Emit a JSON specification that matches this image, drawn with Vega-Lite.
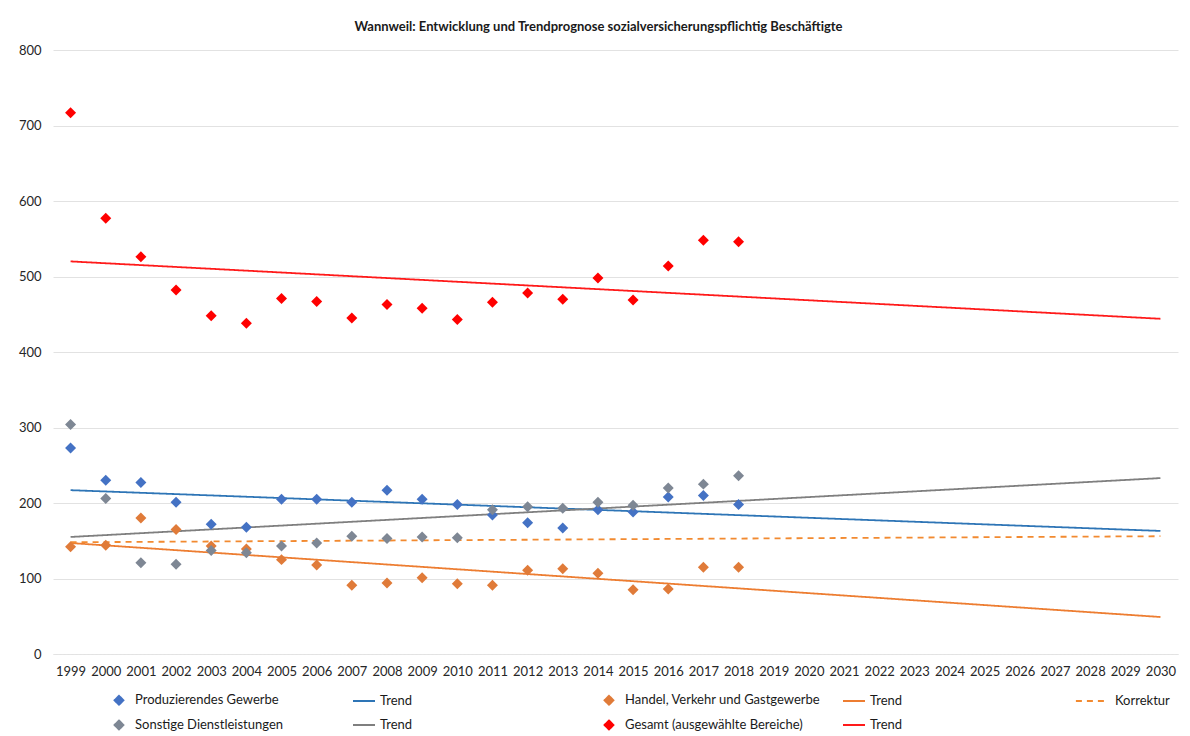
{
  "$schema": "https://vega.github.io/schema/vega-lite/v6.json",
  "width": 1190,
  "height": 736,
  "autosize": {"type": "fit", "contains": "padding"},
  "padding": {"left": 18, "right": 12, "top": 21, "bottom": 58},
  "background": "white",
  "title": {
    "text": "Wannweil: Entwicklung und Trendprognose sozialversicherungspflichtig Beschäftigte",
    "font": "Lato",
    "fontSize": 13,
    "fontWeight": "bold",
    "color": "#1a1a1a",
    "anchor": "middle",
    "dx": -17,
    "offset": 10
  },
  "config": {
    "view": {"stroke": null},
    "axis": {"labelFont": "Lato", "labelColor": "#262626"}
  },
  "data": {
    "values": [
      {"s": "Produzierendes Gewerbe", "j": "1999", "v": 273},
      {"s": "Produzierendes Gewerbe", "j": "2000", "v": 230},
      {"s": "Produzierendes Gewerbe", "j": "2001", "v": 227},
      {"s": "Produzierendes Gewerbe", "j": "2002", "v": 201},
      {"s": "Produzierendes Gewerbe", "j": "2003", "v": 172},
      {"s": "Produzierendes Gewerbe", "j": "2004", "v": 168},
      {"s": "Produzierendes Gewerbe", "j": "2005", "v": 205},
      {"s": "Produzierendes Gewerbe", "j": "2006", "v": 205},
      {"s": "Produzierendes Gewerbe", "j": "2007", "v": 201},
      {"s": "Produzierendes Gewerbe", "j": "2008", "v": 217},
      {"s": "Produzierendes Gewerbe", "j": "2009", "v": 205},
      {"s": "Produzierendes Gewerbe", "j": "2010", "v": 198},
      {"s": "Produzierendes Gewerbe", "j": "2011", "v": 184},
      {"s": "Produzierendes Gewerbe", "j": "2012", "v": 174},
      {"s": "Produzierendes Gewerbe", "j": "2013", "v": 167},
      {"s": "Produzierendes Gewerbe", "j": "2014", "v": 191},
      {"s": "Produzierendes Gewerbe", "j": "2015", "v": 188},
      {"s": "Produzierendes Gewerbe", "j": "2016", "v": 208},
      {"s": "Produzierendes Gewerbe", "j": "2017", "v": 210},
      {"s": "Produzierendes Gewerbe", "j": "2018", "v": 198},

      {"s": "Handel, Verkehr und Gastgewerbe", "j": "1999", "v": 142},
      {"s": "Handel, Verkehr und Gastgewerbe", "j": "2000", "v": 144},
      {"s": "Handel, Verkehr und Gastgewerbe", "j": "2001", "v": 180},
      {"s": "Handel, Verkehr und Gastgewerbe", "j": "2002", "v": 165},
      {"s": "Handel, Verkehr und Gastgewerbe", "j": "2003", "v": 143},
      {"s": "Handel, Verkehr und Gastgewerbe", "j": "2004", "v": 139},
      {"s": "Handel, Verkehr und Gastgewerbe", "j": "2005", "v": 125},
      {"s": "Handel, Verkehr und Gastgewerbe", "j": "2006", "v": 118},
      {"s": "Handel, Verkehr und Gastgewerbe", "j": "2007", "v": 91},
      {"s": "Handel, Verkehr und Gastgewerbe", "j": "2008", "v": 94},
      {"s": "Handel, Verkehr und Gastgewerbe", "j": "2009", "v": 101},
      {"s": "Handel, Verkehr und Gastgewerbe", "j": "2010", "v": 93},
      {"s": "Handel, Verkehr und Gastgewerbe", "j": "2011", "v": 91},
      {"s": "Handel, Verkehr und Gastgewerbe", "j": "2012", "v": 111},
      {"s": "Handel, Verkehr und Gastgewerbe", "j": "2013", "v": 113},
      {"s": "Handel, Verkehr und Gastgewerbe", "j": "2014", "v": 107},
      {"s": "Handel, Verkehr und Gastgewerbe", "j": "2015", "v": 85},
      {"s": "Handel, Verkehr und Gastgewerbe", "j": "2016", "v": 86},
      {"s": "Handel, Verkehr und Gastgewerbe", "j": "2017", "v": 115},
      {"s": "Handel, Verkehr und Gastgewerbe", "j": "2018", "v": 115},

      {"s": "Sonstige Dienstleistungen", "j": "1999", "v": 304},
      {"s": "Sonstige Dienstleistungen", "j": "2000", "v": 206},
      {"s": "Sonstige Dienstleistungen", "j": "2001", "v": 121},
      {"s": "Sonstige Dienstleistungen", "j": "2002", "v": 119},
      {"s": "Sonstige Dienstleistungen", "j": "2003", "v": 137},
      {"s": "Sonstige Dienstleistungen", "j": "2004", "v": 134},
      {"s": "Sonstige Dienstleistungen", "j": "2005", "v": 143},
      {"s": "Sonstige Dienstleistungen", "j": "2006", "v": 147},
      {"s": "Sonstige Dienstleistungen", "j": "2007", "v": 156},
      {"s": "Sonstige Dienstleistungen", "j": "2008", "v": 153},
      {"s": "Sonstige Dienstleistungen", "j": "2009", "v": 155},
      {"s": "Sonstige Dienstleistungen", "j": "2010", "v": 154},
      {"s": "Sonstige Dienstleistungen", "j": "2011", "v": 191},
      {"s": "Sonstige Dienstleistungen", "j": "2012", "v": 195},
      {"s": "Sonstige Dienstleistungen", "j": "2013", "v": 193},
      {"s": "Sonstige Dienstleistungen", "j": "2014", "v": 201},
      {"s": "Sonstige Dienstleistungen", "j": "2015", "v": 197},
      {"s": "Sonstige Dienstleistungen", "j": "2016", "v": 220},
      {"s": "Sonstige Dienstleistungen", "j": "2017", "v": 225},
      {"s": "Sonstige Dienstleistungen", "j": "2018", "v": 236},

      {"s": "Gesamt (ausgewählte Bereiche)", "j": "1999", "v": 717},
      {"s": "Gesamt (ausgewählte Bereiche)", "j": "2000", "v": 577},
      {"s": "Gesamt (ausgewählte Bereiche)", "j": "2001", "v": 526},
      {"s": "Gesamt (ausgewählte Bereiche)", "j": "2002", "v": 482},
      {"s": "Gesamt (ausgewählte Bereiche)", "j": "2003", "v": 448},
      {"s": "Gesamt (ausgewählte Bereiche)", "j": "2004", "v": 438},
      {"s": "Gesamt (ausgewählte Bereiche)", "j": "2005", "v": 471},
      {"s": "Gesamt (ausgewählte Bereiche)", "j": "2006", "v": 467},
      {"s": "Gesamt (ausgewählte Bereiche)", "j": "2007", "v": 445},
      {"s": "Gesamt (ausgewählte Bereiche)", "j": "2008", "v": 463},
      {"s": "Gesamt (ausgewählte Bereiche)", "j": "2009", "v": 458},
      {"s": "Gesamt (ausgewählte Bereiche)", "j": "2010", "v": 443},
      {"s": "Gesamt (ausgewählte Bereiche)", "j": "2011", "v": 466},
      {"s": "Gesamt (ausgewählte Bereiche)", "j": "2012", "v": 478},
      {"s": "Gesamt (ausgewählte Bereiche)", "j": "2013", "v": 470},
      {"s": "Gesamt (ausgewählte Bereiche)", "j": "2014", "v": 498},
      {"s": "Gesamt (ausgewählte Bereiche)", "j": "2015", "v": 469},
      {"s": "Gesamt (ausgewählte Bereiche)", "j": "2016", "v": 514},
      {"s": "Gesamt (ausgewählte Bereiche)", "j": "2017", "v": 548},
      {"s": "Gesamt (ausgewählte Bereiche)", "j": "2018", "v": 546},

      {"s": "Trend PG", "j": "1999", "v": 217},
      {"s": "Trend PG", "j": "2030", "v": 163},
      {"s": "Trend HVG", "j": "1999", "v": 147},
      {"s": "Trend HVG", "j": "2030", "v": 49},
      {"s": "Trend SD", "j": "1999", "v": 155},
      {"s": "Trend SD", "j": "2030", "v": 233},
      {"s": "Trend Ges", "j": "1999", "v": 520},
      {"s": "Trend Ges", "j": "2030", "v": 444},
      {"s": "Korrektur", "j": "1999", "v": 148},
      {"s": "Korrektur", "j": "2030", "v": 156}
    ]
  },
  "encoding": {
    "x": {
      "field": "j",
      "type": "ordinal",
      "scale": {
        "type": "point",
        "padding": 0.5,
        "domain": ["1999","2000","2001","2002","2003","2004","2005","2006","2007","2008","2009","2010","2011","2012","2013","2014","2015","2016","2017","2018","2019","2020","2021","2022","2023","2024","2025","2026","2027","2028","2029","2030"]
      },
      "axis": {
        "title": null,
        "labelAngle": 0,
        "labelFontSize": 13,
        "labelPadding": 11,
        "ticks": false,
        "domain": true,
        "domainColor": "#e4e4e4",
        "domainDash": [2, 2],
        "grid": false
      }
    },
    "y": {
      "field": "v",
      "type": "quantitative",
      "scale": {"domain": [0, 800], "nice": false},
      "axis": {
        "title": null,
        "values": [0, 100, 200, 300, 400, 500, 600, 700, 800],
        "labelFontSize": 13,
        "labelPadding": 12,
        "ticks": false,
        "domain": false,
        "grid": true,
        "gridColor": "#e2e2e2",
        "gridWidth": 1
      }
    },
    "color": {
      "field": "s",
      "type": "nominal",
      "scale": {
        "domain": [
          "Produzierendes Gewerbe", "Trend PG",
          "Handel, Verkehr und Gastgewerbe", "Trend HVG",
          "Korrektur",
          "Sonstige Dienstleistungen", "Trend SD",
          "Gesamt (ausgewählte Bereiche)", "Trend Ges"
        ],
        "range": [
          "#4472C4", "#2E75B6",
          "#E07B39", "#ED7D31",
          "#F28A30",
          "#7E8794", "#7F7F7F",
          "#FF0000", "#FF1A1A"
        ]
      },
      "legend": {
        "title": null,
        "orient": "none",
        "legendX": 54,
        "legendY": 638,
        "direction": "horizontal",
        "columns": 5,
        "gridAlign": "all",
        "columnPadding": 5,
        "rowPadding": 4,
        "symbolSize": 484,
        "labelFont": "Lato",
        "labelFontSize": 13,
        "labelColor": "#1a1a1a",
        "labelLimit": 300,
        "labelExpr": "indexof(datum.label, 'Trend') == 0 ? 'Trend' : datum.label",
        "encode": {
          "symbols": {
            "update": {
              "fill": {"scale": "color", "field": "value"},
              "stroke": {"scale": "color", "field": "value"},
              "strokeWidth": {"value": 2},
              "opacity": {"value": 1}
            }
          }
        }
      }
    }
  },
  "layer": [
    {
      "transform": [{"filter": "indexof(datum.s, 'Trend') == 0 || datum.s == 'Korrektur'"}],
      "mark": {"type": "line", "strokeWidth": 1.8},
      "encoding": {
        "detail": {"field": "s"},
        "strokeDash": {
          "field": "s",
          "type": "nominal",
          "scale": {
            "domain": [
              "Produzierendes Gewerbe", "Trend PG",
              "Handel, Verkehr und Gastgewerbe", "Trend HVG",
              "Korrektur",
              "Sonstige Dienstleistungen", "Trend SD",
              "Gesamt (ausgewählte Bereiche)", "Trend Ges"
            ],
            "range": [[1, 0], [1, 0], [1, 0], [1, 0], [6, 5], [1, 0], [1, 0], [1, 0], [1, 0]]
          }
        }
      }
    },
    {
      "transform": [{"filter": "indexof(datum.s, 'Trend') != 0 && datum.s != 'Korrektur'"}],
      "mark": {"type": "point", "filled": true, "opacity": 1, "size": 756},
      "encoding": {
        "shape": {
          "field": "s",
          "type": "nominal",
          "scale": {
            "domain": [
              "Produzierendes Gewerbe", "Trend PG",
              "Handel, Verkehr und Gastgewerbe", "Trend HVG",
              "Korrektur",
              "Sonstige Dienstleistungen", "Trend SD",
              "Gesamt (ausgewählte Bereiche)", "Trend Ges"
            ],
            "range": [
              "M0,-0.4L0.4,0L0,0.4L-0.4,0Z", "stroke",
              "M0,-0.4L0.4,0L0,0.4L-0.4,0Z", "stroke",
              "M-2.1,0H0.5",
              "M0,-0.4L0.4,0L0,0.4L-0.4,0Z", "stroke",
              "M0,-0.4L0.4,0L0,0.4L-0.4,0Z", "stroke"
            ]
          }
        }
      }
    }
  ]
}
